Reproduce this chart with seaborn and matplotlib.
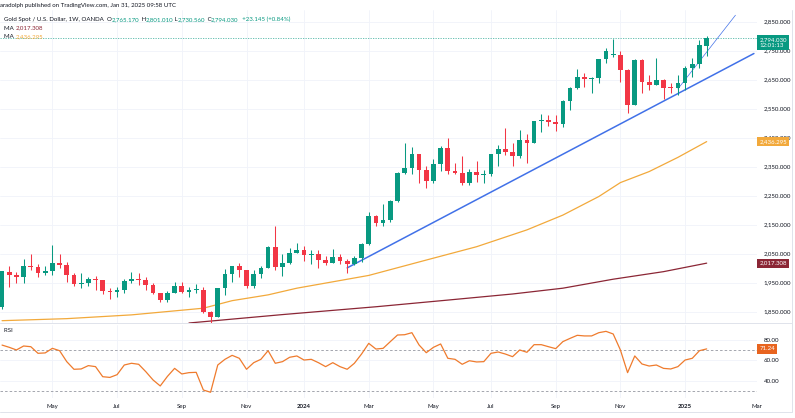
import numpy as np
import pandas as pd
import matplotlib
matplotlib.use("Agg")
import matplotlib.pyplot as plt
from matplotlib.lines import Line2D
import seaborn as sns

# weekly OHLC, XAU/USD (OANDA), weeks starting Mon 2023-03-13 .. 2025-01-27
week_start = "2023-03-13"
opens = [1867, 1988, 1978, 1969, 2007, 2004, 1983, 1990, 2017, 2011,
         1977, 1946, 1948, 1961, 1958, 1921, 1919, 1925, 1955, 1962,
         1959, 1942, 1914, 1889, 1915, 1940, 1919, 1924, 1925, 1848,
         1833, 1932, 1981, 2006, 1992, 1940, 1981, 2002, 2072, 2004,
         2019, 2053, 2062, 2045, 2049, 2029, 2018, 2039, 2024, 2013,
         2035, 2083, 2179, 2155, 2165, 2230, 2329, 2344, 2392, 2337,
         2301, 2360, 2415, 2334, 2327, 2293, 2332, 2321, 2326, 2392,
         2411, 2400, 2387, 2443, 2431, 2507, 2512, 2503, 2497, 2578,
         2622, 2658, 2653, 2657, 2721, 2735, 2736, 2684, 2563, 2716,
         2643, 2633, 2648, 2622, 2621, 2640, 2690, 2703, 2765.17]
highs = [1989, 2009, 1987, 2032, 2048, 2015, 2009, 2079, 2048, 2022,
         1985, 1983, 1971, 1972, 1959, 1931, 1935, 1963, 1987, 1983,
         1970, 1948, 1916, 1923, 1953, 1953, 1935, 1947, 1935, 1851,
         1932, 1997, 2009, 2019, 1993, 1993, 2008, 2075, 2146, 2048,
         2070, 2088, 2078, 2062, 2061, 2041, 2065, 2049, 2033, 2041,
         2088, 2195, 2185, 2222, 2236, 2330, 2431, 2417, 2393, 2352,
         2378, 2422, 2450, 2364, 2387, 2342, 2368, 2338, 2392, 2424,
         2483, 2432, 2477, 2462, 2509, 2531, 2528, 2529, 2581, 2626,
         2685, 2673, 2660, 2722, 2758, 2790, 2750, 2687, 2721, 2721,
         2666, 2726, 2652, 2638, 2665, 2697, 2726, 2786, 2801.01]
lows = [1858, 1935, 1949, 1950, 1992, 1969, 1975, 1977, 2002, 1952,
        1937, 1932, 1940, 1925, 1912, 1893, 1902, 1915, 1950, 1943,
        1926, 1910, 1885, 1884, 1914, 1915, 1901, 1913, 1846, 1810,
        1831, 1908, 1954, 1970, 1932, 1931, 1965, 2002, 1995, 1973,
        2016, 2052, 2024, 2013, 2002, 2010, 2017, 2015, 1984, 2011,
        2023, 2081, 2146, 2146, 2159, 2228, 2325, 2324, 2292, 2277,
        2292, 2334, 2325, 2323, 2287, 2286, 2296, 2293, 2319, 2353,
        2391, 2353, 2381, 2364, 2430, 2470, 2491, 2472, 2485, 2546,
        2618, 2624, 2604, 2638, 2708, 2727, 2643, 2536, 2563, 2605,
        2613, 2632, 2583, 2603, 2597, 2615, 2660, 2690, 2730.56]
closes = [1989, 1978, 1969, 2007, 2004, 1983, 1990, 2017, 2011, 1977,
          1946, 1948, 1961, 1958, 1921, 1919, 1925, 1955, 1962, 1959,
          1942, 1914, 1889, 1915, 1940, 1919, 1924, 1925, 1848, 1833,
          1932, 1981, 2006, 1992, 1940, 1981, 2002, 2072, 2004, 2019,
          2053, 2062, 2045, 2049, 2029, 2018, 2039, 2024, 2013, 2035,
          2083, 2179, 2155, 2165, 2230, 2329, 2344, 2392, 2337, 2301,
          2360, 2415, 2334, 2327, 2293, 2332, 2321, 2326, 2392, 2411,
          2400, 2387, 2443, 2431, 2507, 2512, 2503, 2497, 2578, 2622,
          2658, 2653, 2657, 2721, 2747, 2737, 2684, 2563, 2716, 2643,
          2633, 2648, 2622, 2621, 2640, 2690, 2703, 2770, 2794.03]

rsi = [75, 72.8, 70.2, 74.1, 73.4, 66.9, 67.3, 71.8, 69.5, 58.7,
       51.2, 51.5, 54.8, 53.8, 43.9, 43.2, 45.9, 55.4, 57.1, 56.1,
       48.8, 40.7, 34.8, 44.2, 52.1, 46.6, 47.9, 48.2, 30.8, 28.6,
       55.4, 61, 64.9, 62, 51.2, 57.7, 61, 69.5, 57.1, 58.7,
       63, 64.3, 60.3, 61, 57.7, 53.8, 57.7, 53.8, 51.2, 57.1,
       66.2, 76.7, 71.1, 71.8, 78.4, 84.9, 85.2, 87.2, 75.1, 67.5,
       72.8, 76.1, 62, 61, 56.1, 59.6, 58.4, 58.7, 66.9, 68.2,
       66.2, 63.6, 70.2, 67.9, 75.4, 75.4, 73.4, 71.5, 78.4, 81.6,
       84.6, 84, 84, 87.2, 88.5, 85.9, 70.2, 47.9, 64.3, 56.4,
       54.4, 55.4, 52.1, 51.5, 53.8, 60.3, 62, 69.5, 71.24]

# moving averages, sampled at week index
ma_fast_week = [0, 9, 18, 28, 32, 37, 41, 46, 51, 59, 66, 73, 78, 83, 86, 90, 94, 98]
ma_fast_val = [1819, 1826, 1839, 1862, 1888, 1908, 1931, 1953, 1975, 2028,
               2074, 2132, 2183, 2247, 2295, 2333, 2382, 2436.295]
ma_slow_week = [26, 39, 52, 62, 71, 78, 85, 92, 98]
ma_slow_val = [1811, 1840, 1867, 1890, 1911, 1931, 1962, 1988, 2017.308]

# drawn trend lines
trend_dates = ["2024-02-12", "2025-03-14"]
trend_prices = [2001, 2740]
steep_dates = ["2024-12-30", "2025-02-24"]
steep_prices = [2618, 2872]

tick_dates = ["2023-05-01", "2023-07-03", "2023-09-04", "2023-11-06", "2024-01-01",
              "2024-03-04", "2024-05-06", "2024-07-01", "2024-09-02", "2024-11-04",
              "2025-01-06", "2025-03-17"]
tick_labels = ["May", "Jul", "Sep", "Nov", "2024", "Mar", "May", "Jul", "Sep", "Nov",
               "2025", "Mar"]
price_ticks = [1850, 1950, 2050, 2150, 2250, 2350, 2450, 2550, 2650, 2750, 2850]
rsi_ticks = [40, 60, 80]

GREEN = "#089981"
RED = "#F23645"
ORANGE = "#F2A93B"
MAROON = "#8B2635"
BLUE = "#4171E8"
RSI_C = "#EF7B2D"
TXT = "#131722"
GRID = "#F0F3FA"
BORDER = "#E0E3EB"

sns.set_theme(style="white")
plt.rcParams["font.family"] = ["Lato", "DejaVu Sans"]

dates = pd.date_range(week_start, periods=len(closes), freq="7D")
o = np.array(opens); c = np.array(closes)
h = np.array(highs); l = np.array(lows)
up = c >= o
colors = np.where(up, GREEN, RED)

W, H = 795, 418
fig = plt.figure(figsize=(W / 100, H / 100), dpi=100)
ax = fig.add_axes([0, 1 - 323 / H, 757 / W, 313 / H])
ax2 = fig.add_axes([0, 1 - 398 / H, 757 / W, 73 / H], sharex=ax)

# candles
ax.vlines(dates, l, h, colors=colors, linewidth=0.75, zorder=3)
body_low = np.minimum(o, c)
body_h = np.maximum(np.abs(c - o), 3)
ax.bar(dates, body_h, bottom=body_low, width=4.6, color=colors, linewidth=0, zorder=4)

# moving averages
sns.lineplot(x=dates[ma_fast_week], y=ma_fast_val, ax=ax, color=ORANGE, linewidth=0.9, zorder=2)
sns.lineplot(x=dates[ma_slow_week], y=ma_slow_val, ax=ax, color=MAROON, linewidth=0.9, zorder=2)

# trend lines
ax.plot(pd.to_datetime(trend_dates), trend_prices, color=BLUE, linewidth=1.1, zorder=2)
ax.plot(pd.to_datetime(steep_dates), steep_prices, color=BLUE, linewidth=0.5, zorder=2)

# last price line
ax.axhline(closes[-1], color=GREEN, linewidth=0.6, linestyle=(0, (1.5, 1.5)), alpha=0.7, zorder=1)

ax.set_xlim(pd.Timestamp("2023-03-11"), pd.Timestamp("2025-03-16"))
ax.set_ylim(1811, 2890)
ax.yaxis.tick_right()
ax.set_yticks(price_ticks)
ax.set_yticklabels([f"{v:,.3f}" for v in price_ticks])
ax.tick_params(axis="y", length=0, pad=5, labelsize=4.4, labelcolor=TXT)
ax.tick_params(axis="x", length=0, labelbottom=False)
ax.set_xticks(pd.to_datetime(tick_dates))
ax.grid(True, color=GRID, linewidth=0.6)
ax.set_xlabel("")
ax.set_ylabel("")

# RSI pane
sns.lineplot(x=dates, y=rsi, ax=ax2, color=RSI_C, linewidth=0.9, zorder=3)
for lvl in (70, 30):
    ax2.axhline(lvl, color="#9598A1", linewidth=0.6, linestyle=(0, (3, 2.5)), zorder=2)
ax2.set_ylim(22.95, 94.75)
ax2.yaxis.tick_right()
ax2.set_yticks(rsi_ticks)
ax2.set_yticklabels([f"{v:.2f}" for v in rsi_ticks])
ax2.set_xticks(pd.to_datetime(tick_dates))
ax2.set_xticklabels(tick_labels)
for lab in ax2.get_xticklabels():
    if lab.get_text().isdigit():
        lab.set_fontweight("bold")
ax2.tick_params(axis="y", length=0, pad=5, labelsize=4.4, labelcolor=TXT)
ax2.tick_params(axis="x", length=0, pad=4, labelsize=4.4, labelcolor=TXT)
ax2.grid(True, color=GRID, linewidth=0.6)
ax2.set_xlabel("")
ax2.set_ylabel("")

for a in (ax, ax2):
    for s in a.spines.values():
        s.set_visible(False)

# pane separator and outer frame
frame_kw = dict(transform=fig.transFigure, color=BORDER, linewidth=0.7)
fig.add_artist(Line2D([0, 792 / W], [1 - 323 / H] * 2, **frame_kw))
fig.add_artist(Line2D([0, 792 / W], [1 - 412 / H] * 2, **frame_kw))
fig.add_artist(Line2D([792 / W] * 2, [1 - 412 / H, 1 - 10 / H], **frame_kw))

# right axis value boxes
box_kw = dict(transform=ax.get_yaxis_transform(), ha="left", va="center", color="white",
              fontsize=4.4, zorder=10, clip_on=False, linespacing=1.3)
ax.text(1.003, closes[-1] - 16, "2,794.030\n12:01:13",
        bbox=dict(boxstyle="square,pad=0.35", fc=GREEN, ec="none"), **box_kw)
ax.text(1.003, ma_fast_val[-1], f"{ma_fast_val[-1]:,.3f}",
        bbox=dict(boxstyle="square,pad=0.35", fc=ORANGE, ec="none"), **box_kw)
ax.text(1.003, ma_slow_val[-1], f"{ma_slow_val[-1]:,.3f}",
        bbox=dict(boxstyle="square,pad=0.35", fc=MAROON, ec="none"), **box_kw)
box_kw["transform"] = ax2.get_yaxis_transform()
ax2.text(1.003, rsi[-1], f"{rsi[-1]:.2f}",
         bbox=dict(boxstyle="square,pad=0.35", fc="#E8641F", ec="none"), **box_kw)


def colored_line(x, y, parts, size=4.4):
    t = fig.text(x / W, 1 - y / H, parts[0][0], color=parts[0][1], fontsize=size, va="center")
    for s, col in parts[1:]:
        t = ax.annotate(s, xy=(1, 0), xycoords=t, va="bottom", ha="left",
                        color=col, fontsize=size)
    return t


fig.text(0, 1 - 6 / H, "aradolph published on TradingView.com, Jan 31, 2025 09:58 UTC",
         color=TXT, fontsize=4.4, va="center")
colored_line(4, 19.5, [("Gold Spot / U.S. Dollar, 1W, OANDA  ", TXT), ("O", TXT),
                       ("2,765.170", GREEN), (" H", TXT), ("2,801.010", GREEN),
                       (" L", TXT), ("2,730.560", GREEN), (" C", TXT),
                       ("2,794.030", GREEN), ("  +23.145 (+0.84%)", GREEN)])
colored_line(4, 28, [("MA ", TXT), ("2,017.308", MAROON)])
colored_line(4, 36.5, [("MA ", TXT), ("2,436.295", ORANGE)])
colored_line(4, 331, [("RSI ", TXT), ("71.24", RSI_C)])

fig.savefig("out.png", dpi=100)
